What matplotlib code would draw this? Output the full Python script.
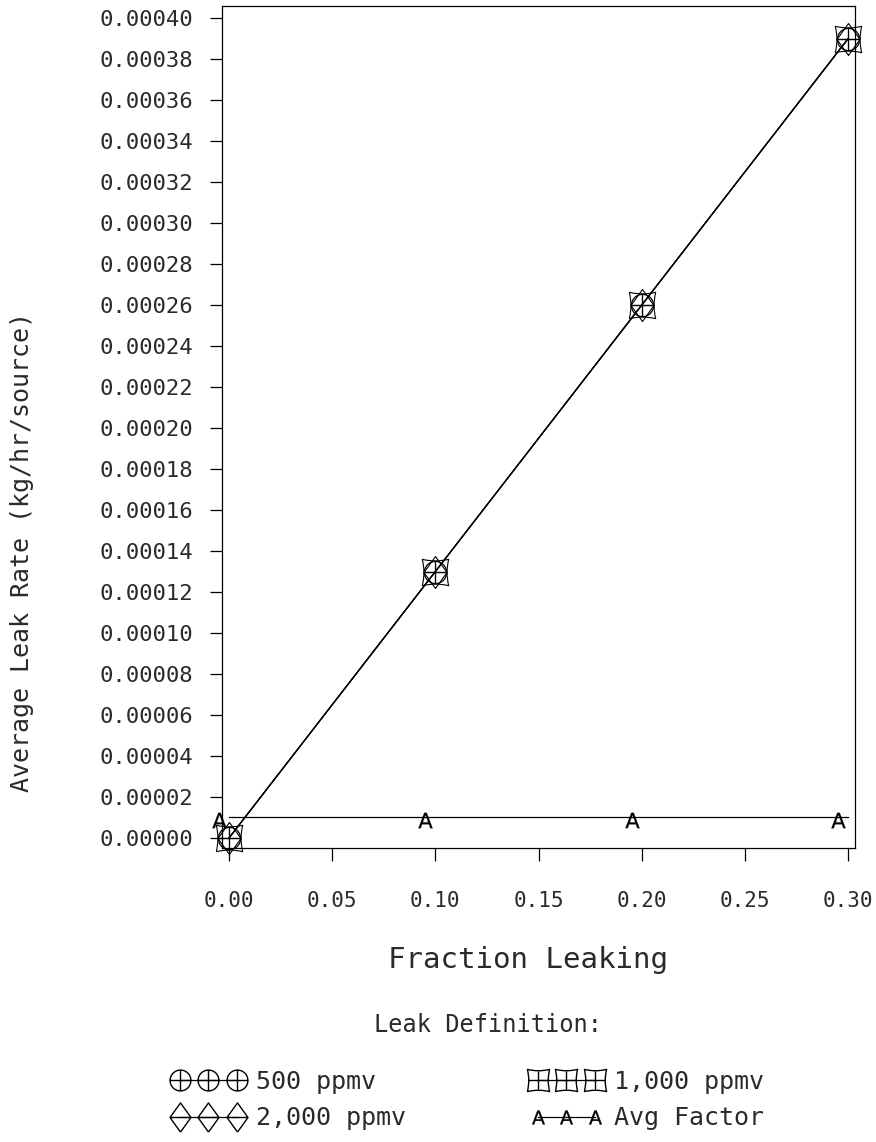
import matplotlib
matplotlib.use("Agg")
import matplotlib.pyplot as plt
import numpy as np
from matplotlib.path import Path
from matplotlib.lines import Line2D
from matplotlib.ticker import FixedLocator, FormatStrFormatter
import matplotlib.transforms as mtransforms

# ---- data ----
fraction_leaking = [0.00, 0.10, 0.20, 0.30]
rate_500 = [0.0, 0.00013, 0.00026, 0.00039]
rate_1000 = [0.0, 0.00013, 0.00026, 0.00039]
rate_2000 = [0.0, 0.00013, 0.00026, 0.00039]
avg_factor = [0.00001, 0.00001, 0.00001, 0.00001]
series_labels = ["500 ppmv", "1,000 ppmv", "2,000 ppmv", "Avg Factor"]
y_ticks = [i * 0.00002 for i in range(21)]
x_ticks = [0.00, 0.05, 0.10, 0.15, 0.20, 0.25, 0.30]

FONT = "DejaVu Sans Mono"
TXT = "#2a2a2a"
plt.rcParams["font.family"] = [FONT]

# ---- custom markers ----
def circle_plus():
    c = Path.unit_circle()
    cross = Path([(-1, 0), (1, 0), (0, -1), (0, 1)],
                 [Path.MOVETO, Path.LINETO, Path.MOVETO, Path.LINETO])
    return Path.make_compound_path(c, cross)

def concave_square():
    k = 0.75
    verts = [(-1, -1), (0, -k), (1, -1), (k, 0), (1, 1), (0, k), (-1, 1), (-k, 0), (-1, -1),
             (-0.85, 0), (0.85, 0), (0, -0.8), (0, 0.8)]
    codes = [Path.MOVETO, Path.CURVE3, Path.CURVE3, Path.CURVE3, Path.CURVE3,
             Path.CURVE3, Path.CURVE3, Path.CURVE3, Path.CURVE3,
             Path.MOVETO, Path.LINETO, Path.MOVETO, Path.LINETO]
    return Path(verts, codes)

def diamond():
    verts = [(0, -1), (0.72, 0), (0, 1), (-0.72, 0), (0, -1), (-0.72, 0), (0.72, 0)]
    codes = [Path.MOVETO, Path.LINETO, Path.LINETO, Path.LINETO, Path.LINETO,
             Path.MOVETO, Path.LINETO]
    return Path(verts, codes)

fig = plt.figure(figsize=(8.76, 11.42), dpi=100)
ax = fig.add_axes([222 / 876, 1 - 848 / 1142, (855 - 222) / 876, (848 - 6) / 1142])

lw = 0.9
ms = 16
ax.plot(fraction_leaking, rate_500, color="black", lw=lw, marker=circle_plus(), ms=ms,
        mfc="none", mec="black", mew=0.9, clip_on=False, zorder=3)
ax.plot(fraction_leaking, rate_1000, color="black", lw=lw, marker=concave_square(), ms=ms + 3,
        mfc="none", mec="black", mew=0.8, clip_on=False, zorder=3)
ax.plot(fraction_leaking, rate_2000, color="black", lw=lw, marker=diamond(), ms=ms + 7,
        mfc="none", mec="black", mew=0.8, clip_on=False, zorder=3)
ax.plot(fraction_leaking, avg_factor, color="black", lw=lw, clip_on=False, zorder=2)
offs = mtransforms.offset_copy(ax.transData, fig=fig, x=-10, y=-3, units="dots")
ax.plot(fraction_leaking, avg_factor, ls="none", marker=r"$\mathsf{A}$", ms=11,
        color="black", mew=0.2, transform=offs, clip_on=False, zorder=3)

ax.set_xlim(-0.0034, 0.3034)
ax.set_ylim(-0.0000049, 0.000406)
ax.yaxis.set_major_locator(FixedLocator(y_ticks))
ax.xaxis.set_major_locator(FixedLocator(x_ticks))
ax.yaxis.set_major_formatter(FormatStrFormatter("%.5f"))
ax.xaxis.set_major_formatter(FormatStrFormatter("%.2f"))
ax.tick_params(axis="both", direction="out", length=9, width=0.9,
               colors="black", labelcolor=TXT)
ax.tick_params(axis="y", pad=12, labelsize=16)
ax.tick_params(axis="x", pad=22, labelsize=15)
ax.tick_params(top=False, right=False)
for s in ax.spines.values():
    s.set_linewidth(0.9)

fig.text(22 / 876, 1 - 552 / 1142, "Average Leak Rate (kg/hr/source)", rotation=90,
         ha="center", va="center", fontsize=18, color=TXT)
fig.text(528 / 876, 1 - 960 / 1142, "Fraction Leaking", ha="center", va="center",
         fontsize=21, color=TXT)
fig.text(488 / 876, 1 - 1025 / 1142, "Leak Definition:", ha="center", va="center",
         fontsize=17, color=TXT)

h500 = Line2D([], [], color="black", lw=lw, marker=circle_plus(), ms=15, mfc="none", mec="black")
h2000 = Line2D([], [], color="black", lw=lw, marker=diamond(), ms=21, mfc="none", mec="black")
h1000 = Line2D([], [], color="black", lw=lw, marker=concave_square(), ms=16, mfc="none", mec="black")
havg = Line2D([], [], color="black", lw=lw, marker=r"$\mathsf{A}$", ms=10, mew=0.2)

leg_kw = dict(numpoints=3, frameon=False, loc="upper left", fontsize=18,
              handlelength=2.9, handletextpad=0.45, labelspacing=0.5,
              labelcolor=TXT, borderpad=0, borderaxespad=0)
leg1 = fig.legend([h500, h2000], [series_labels[0], series_labels[2]],
                  bbox_to_anchor=(172 / 876, 1 - 1070 / 1142), **leg_kw)
leg2 = fig.legend([h1000, havg], [series_labels[1], series_labels[3]],
                  bbox_to_anchor=(530 / 876, 1 - 1070 / 1142), **leg_kw)

fig.savefig("out.png", dpi=100)
